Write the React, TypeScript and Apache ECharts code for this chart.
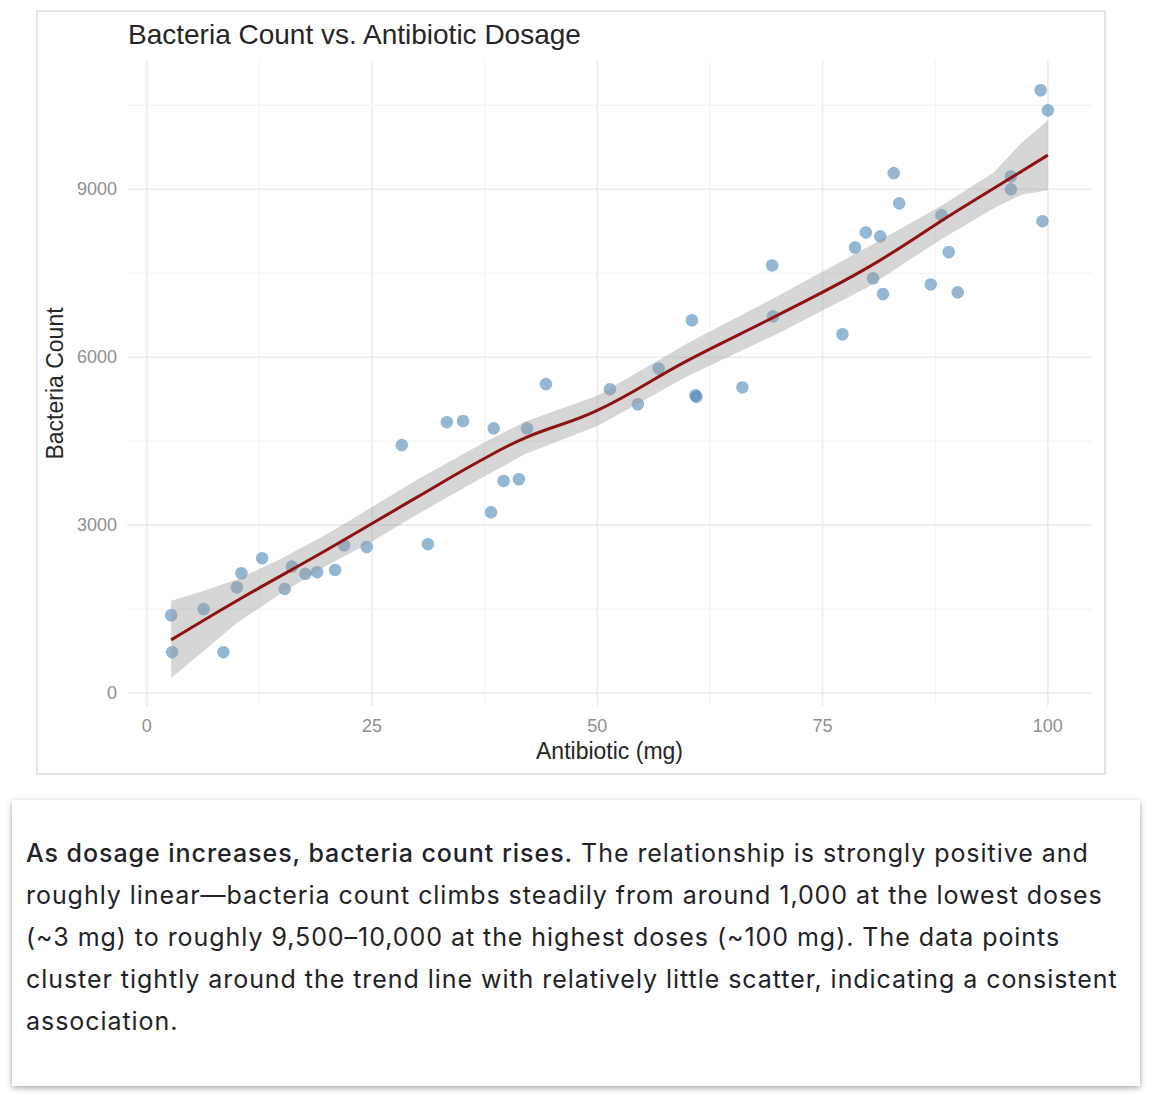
import React, { useEffect, useRef } from "react";
import * as echarts from "echarts";

// Scatter data: antibiotic dosage (mg) and bacteria count
const dosage = [
  2.7, 2.8, 6.3, 8.5, 10.0, 10.5, 12.8, 15.3, 16.1, 17.6, 18.9, 20.9, 21.9, 24.4,
  28.3, 31.2, 33.3, 35.1, 38.2, 38.5, 39.6, 41.3, 42.2, 44.3, 51.4, 54.5, 56.8,
  60.5, 60.9, 61.0, 66.1, 69.4, 69.5, 77.2, 78.6, 79.8, 80.6, 81.4, 81.7, 82.9,
  83.5, 87.0, 88.2, 89.0, 90.0, 95.9, 95.9, 99.2, 99.4, 100.0,
];
const bacteria = [
  1390, 730, 1500, 730, 1890, 2140, 2410, 1860, 2260, 2130, 2160, 2200, 2640, 2610,
  4430, 2660, 4840, 4860, 3230, 4730, 3790, 3820, 4730, 5520, 5430, 5160, 5800,
  6660, 5320, 5290, 5460, 7640, 6730, 6410, 7960, 8230, 7410, 8160, 7130, 9290,
  8750, 7300, 8540, 7880, 7160, 9230, 9000, 10770, 8430, 10410,
];

// Smoothed trend line
const trendX = [2.7, 10, 20, 30, 37, 42, 50, 60, 70, 80, 90, 100];
const trendY = [950, 1650, 2560, 3500, 4150, 4560, 5050, 5940, 6750, 7600, 8620, 9610];

// Confidence band
const bandX = [2.7, 6, 10, 15, 20, 25, 30, 37, 42, 50, 60, 70, 80, 88, 94, 97, 100];
const bandUpper = [1650, 1810, 2030, 2410, 2840, 3324, 3810, 4440, 4850, 5310, 6250, 7090, 7970, 8690, 9300, 9820, 10235];
const bandLower = [270, 710, 1250, 1790, 2280, 2710, 3190, 3830, 4270, 4770, 5660, 6420, 7250, 8090, 8660, 8900, 8985];

// Ticks and grid lines
const xTicks = [0, 25, 50, 75, 100];
const xMinor = [12.5, 37.5, 62.5, 87.5];
const yTicks = [0, 3000, 6000, 9000];
const yMinor = [1500, 4500, 7500, 10500];

const X_MIN = -2.2;
const X_MAX = 104.9;
const Y_MIN = -231;
const Y_MAX = 11292;

const CHART_FONT = "'Liberation Sans', Arial, Helvetica, sans-serif";

function Chart() {
  const ref = useRef<HTMLDivElement>(null);
  useEffect(() => {
    if (!ref.current) return;
    const chart = echarts.init(ref.current, undefined, { renderer: "svg" });
    const majorColor = "#ebebeb";
    const minorColor = "#f3f3f3";
    const vLines = [
      ...xTicks.map((v) => [v, 0, 1]),
      ...xMinor.map((v) => [v, 0, 0]),
    ];
    const hLines = [
      ...yTicks.map((v) => [0, v, 1]),
      ...yMinor.map((v) => [0, v, 0]),
    ];
    chart.setOption({
      animation: false,
      title: {
        text: "Bacteria Count vs. Antibiotic Dosage",
        left: 90,
        top: 8,
        padding: 0,
        textStyle: {
          fontFamily: CHART_FONT,
          fontSize: 28,
          fontWeight: "normal",
          color: "#262626",
        },
      },
      grid: { left: 89, right: 12, top: 49, bottom: 67, containLabel: false, outerBoundsMode: "none" },
      xAxis: {
        type: "value",
        min: X_MIN,
        max: X_MAX,
        name: "Antibiotic (mg)",
        nameLocation: "middle",
        nameGap: 32,
        nameTextStyle: { fontFamily: CHART_FONT, fontSize: 23, color: "#262626" },
        axisLine: { show: false },
        axisTick: { show: false },
        splitLine: { show: false },
        axisLabel: {
          customValues: xTicks,
          margin: 11,
          fontFamily: CHART_FONT,
          fontSize: 18,
          color: "#8f8f8f",
          formatter: (v: number) => String(v),
        },
      },
      yAxis: {
        type: "value",
        min: Y_MIN,
        max: Y_MAX,
        name: "Bacteria Count",
        nameLocation: "middle",
        nameGap: 58,
        nameTextStyle: { fontFamily: CHART_FONT, fontSize: 23, color: "#262626" },
        axisLine: { show: false },
        axisTick: { show: false },
        splitLine: { show: false },
        axisLabel: {
          customValues: yTicks,
          margin: 10,
          fontFamily: CHART_FONT,
          fontSize: 18,
          color: "#8f8f8f",
          formatter: (v: number) => String(v),
        },
      },
      series: [
        {
          type: "custom",
          z: 1,
          silent: true,
          data: vLines,
          renderItem: (params: any, api: any) => {
            const cs = params.coordSys;
            const x = api.coord([api.value(0), 0])[0];
            const major = api.value(2) === 1;
            return {
              type: "line",
              shape: { x1: x, y1: cs.y, x2: x, y2: cs.y + cs.height },
              style: { stroke: major ? majorColor : minorColor, lineWidth: major ? 1.6 : 1.2 },
            };
          },
        },
        {
          type: "custom",
          z: 1,
          silent: true,
          data: hLines,
          renderItem: (params: any, api: any) => {
            const cs = params.coordSys;
            const y = api.coord([0, api.value(1)])[1];
            const major = api.value(2) === 1;
            return {
              type: "line",
              shape: { x1: cs.x, y1: y, x2: cs.x + cs.width, y2: y },
              style: { stroke: major ? majorColor : minorColor, lineWidth: major ? 1.6 : 1.2 },
            };
          },
        },
        {
          type: "scatter",
          z: 3,
          symbolSize: 12.5,
          itemStyle: { color: "rgba(70,130,180,0.72)" },
          data: dosage.map((x, i) => [x, bacteria[i]]),
        },
        {
          type: "custom",
          z: 4,
          silent: true,
          data: [[bandX[0], bandLower[0]]],
          renderItem: (params: any, api: any) => {
            const pts: number[][] = [];
            for (let i = 0; i < bandX.length; i++) pts.push(api.coord([bandX[i], bandUpper[i]]));
            for (let i = bandX.length - 1; i >= 0; i--) pts.push(api.coord([bandX[i], bandLower[i]]));
            return {
              type: "polygon",
              shape: { points: pts },
              style: { fill: "rgba(153,153,153,0.4)", stroke: "none" },
            };
          },
        },
        {
          type: "line",
          z: 5,
          silent: true,
          smooth: 0.4,
          symbol: "none",
          showSymbol: false,
          lineStyle: { color: "#8f1212", width: 3 },
          data: trendX.map((x, i) => [x, trendY[i]]),
        },
      ],
    });
    return () => chart.dispose();
  }, []);
  return <div ref={ref} style={{ position: "absolute", left: 0, top: 0, width: "100%", height: "100%" }} />;
}

export default function App() {
  const textLine: React.CSSProperties = { whiteSpace: "nowrap" };
  return (
    <div style={{ position: "absolute", left: 0, top: 0, width: 1152, height: 1102, background: "#fff" }}>
      <div
        style={{
          position: "absolute",
          left: 36,
          top: 10,
          width: 1070,
          height: 765,
          border: "2px solid #e1e4e9",
          boxSizing: "border-box",
          background: "#fff",
        }}
      >
        <Chart />
      </div>
      <div
        style={{
          position: "absolute",
          left: 12,
          top: 800,
          width: 1128,
          height: 286,
          boxSizing: "border-box",
          background: "#fff",
          boxShadow: "0 2px 6px rgba(0,0,0,0.35)",
          padding: "32px 14px",
          fontFamily: "Inter, 'Noto Sans', sans-serif",
          fontSize: 25,
          letterSpacing: "0.95px",
          lineHeight: "42px",
          color: "#1f2328",
        }}
      >
        <div style={textLine}>
          <span style={{ fontWeight: 500 }}>As dosage increases, bacteria count rises.</span> The relationship is strongly positive and
        </div>
        <div style={textLine}>roughly linear—bacteria count climbs steadily from around 1,000 at the lowest doses</div>
        <div style={textLine}>(~3 mg) to roughly 9,500–10,000 at the highest doses (~100 mg). The data points</div>
        <div style={textLine}>cluster tightly around the trend line with relatively little scatter, indicating a consistent</div>
        <div style={textLine}>association.</div>
      </div>
    </div>
  );
}
